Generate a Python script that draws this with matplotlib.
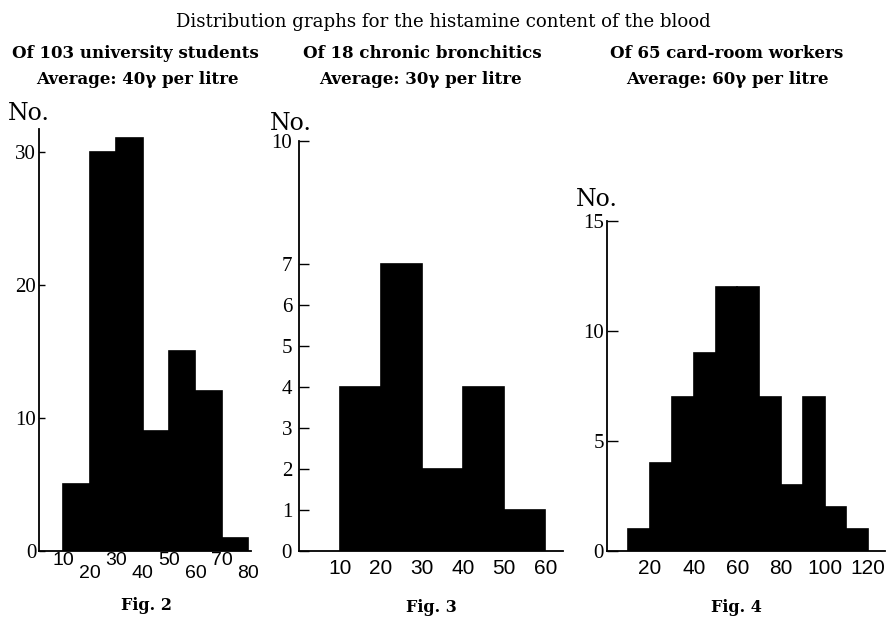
import matplotlib
matplotlib.use("Agg")
import matplotlib.pyplot as plt

# Fig. 2 - 103 university students
bins_students = [10, 20, 30, 40, 50, 60, 70]
counts_students = [5, 30, 31, 9, 15, 12, 1]
# Fig. 3 - 18 chronic bronchitics
bins_bronch = [10, 20, 30, 40, 50]
counts_bronch = [4, 7, 2, 4, 1]
# Fig. 4 - 65 card-room workers
bins_workers = [10, 20, 30, 40, 50, 60, 70, 80, 90, 100, 110]
counts_workers = [1, 4, 7, 9, 12, 12, 7, 3, 7, 2, 1]

yticks_students = [0, 10, 20, 30]
yticks_bronch = [0, 1, 2, 3, 4, 5, 6, 7, 10]
yticks_workers = [0, 5, 10, 15]
xticks_students_up = [10, 30, 50, 70]
xticks_students_down = [20, 40, 60, 80]
xticks_bronch = [10, 20, 30, 40, 50, 60]
xticks_workers = [20, 40, 60, 80, 100, 120]

W, H = 887, 618
SERIF = ['Liberation Serif', 'DejaVu Serif']
HEAD = ['DejaVu Serif']
NARROW = ['Liberation Sans Narrow', 'Liberation Sans', 'DejaVu Sans']

fig = plt.figure(figsize=(W / 100, H / 100), dpi=100)


def px_axes(left, top, right, bottom):
    return fig.add_axes([left / W, 1 - bottom / H, (right - left) / W, (bottom - top) / H])


def ftext(x, y, s, **kw):
    fig.text(x / W, 1 - y / H, s, ha='center', va='center', **kw)


def hist_panel(ax, bins, counts, xlim, ylim, yticks, ticklen, ysize, ypad):
    ax.bar(bins, counts, width=10, align='edge', color='black', edgecolor='black', linewidth=1.2)
    ax.set_xlim(*xlim)
    ax.set_ylim(*ylim)
    for s in ['top', 'right']:
        ax.spines[s].set_visible(False)
    ax.spines['left'].set_linewidth(1.3)
    ax.spines['bottom'].set_linewidth(1.3)
    ax.set_yticks(yticks)
    ax.set_yticklabels([str(t) for t in yticks], family=SERIF, fontsize=ysize)
    ax.tick_params(axis='y', direction='in', length=ticklen, width=1, pad=ypad)
    ax.tick_params(axis='x', length=0)


# Fig. 2
ax2 = px_axes(39, 129, 251, 551)
hist_panel(ax2, bins_students, counts_students, (0.8, 81), (0, 31.7), yticks_students, 4, 15, 2)
ax2.set_xticks(xticks_students_up)
ax2.set_xticklabels([str(t) for t in xticks_students_up], family=NARROW, fontsize=14)
ax2.set_xticks(xticks_students_down, minor=True)
ax2.set_xticklabels([str(t) for t in xticks_students_down], minor=True, family=NARROW, fontsize=14)
ax2.tick_params(axis='x', which='major', pad=1)
ax2.tick_params(axis='x', which='minor', length=0, pad=10)

# Fig. 3
ax3 = px_axes(299, 141, 563, 551)
hist_panel(ax3, bins_bronch, counts_bronch, (0, 64.3), (0, 10), yticks_bronch, 7, 15, 5)
ax3.set_xticks(xticks_bronch)
ax3.set_xticklabels([str(t) for t in xticks_bronch], family=NARROW, fontsize=15)
ax3.tick_params(axis='x', pad=6)

# Fig. 4
ax4 = px_axes(606.5, 221, 885, 551)
hist_panel(ax4, bins_workers, counts_workers, (0, 127.7), (0, 15), yticks_workers, 8, 15, 2)
ax4.set_xticks(xticks_workers)
ax4.set_xticklabels([str(t) for t in xticks_workers], family=NARROW, fontsize=15)
ax4.tick_params(axis='x', pad=6)

# headings
ftext(443, 22, 'Distribution graphs for the histamine content of the blood', family=HEAD, fontsize=13.1)
ftext(135, 53, 'Of 103 university students', family=HEAD, fontsize=12, fontweight='bold')
ftext(137, 80, 'Average: 40\u03b3 per litre', family=HEAD, fontsize=12, fontweight='bold')
ftext(422, 53, 'Of 18 chronic bronchitics', family=HEAD, fontsize=12, fontweight='bold')
ftext(420, 80, 'Average: 30\u03b3 per litre', family=HEAD, fontsize=12, fontweight='bold')
ftext(727, 53, 'Of 65 card-room workers', family=HEAD, fontsize=12, fontweight='bold')
ftext(727, 80, 'Average: 60\u03b3 per litre', family=HEAD, fontsize=12, fontweight='bold')

# "No." axis captions
ftext(29, 113, 'No.', family=HEAD, fontsize=17)
ftext(291, 123, 'No.', family=HEAD, fontsize=17)
ftext(597, 199, 'No.', family=HEAD, fontsize=17)

# figure numbers
ftext(147, 605, 'Fig. 2', family=HEAD, fontsize=11.5, fontweight='bold')
ftext(431, 608, 'Fig. 3', family=HEAD, fontsize=11.5, fontweight='bold')
ftext(736, 608, 'Fig. 4', family=HEAD, fontsize=11.5, fontweight='bold')

fig.savefig('out.png', dpi=100)
